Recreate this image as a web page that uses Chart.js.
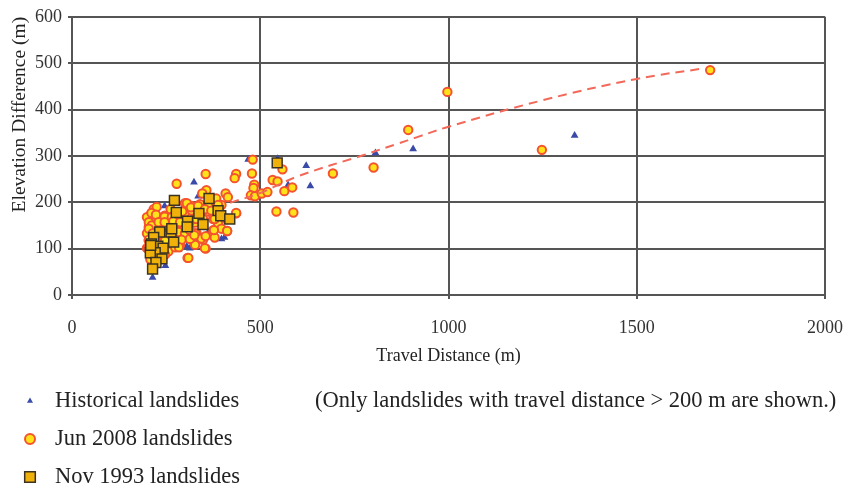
<!DOCTYPE html>
<html>
<head>
<meta charset="utf-8">
<script src="https://cdn.jsdelivr.net/npm/chart.js@4"></script>
<style>
html, body { margin: 0; padding: 0; background: #fff; }
#wrap { width: 861px; height: 491px; position: relative; }
</style>
</head>
<body>
<div id="wrap"><canvas id="chart"></canvas></div>
<script>
// historical landslides (triangles)
const histX = [324, 468, 246, 335, 300, 239, 322, 362, 313, 283, 248, 214, 405, 379, 256, 199, 204, 265, 305, 331, 278, 397, 546, 622, 633, 574, 806, 906, 1335];
const histY = [243, 292, 192, 213, 199, 129, 121, 136, 101, 98, 63, 38, 124, 133, 119, 143, 115, 98, 105, 115, 164, 121, 294, 279, 235, 237, 306, 315, 344];

// Jun 2008 landslides (circles)
const junX = [480, 355, 436, 432, 478, 278, 357, 346, 484, 482, 408, 414, 383, 475, 486, 504, 519, 300, 318, 340, 362, 397, 246, 211, 221, 283, 300, 318, 331, 362, 383, 436, 410, 375, 256, 234, 213, 204, 226, 243, 270, 291, 327, 348, 388, 397, 412, 375, 331, 296, 283, 348, 379, 274, 313, 208, 204, 204, 239, 256, 287, 355, 307, 208, 256, 327,
              199, 217, 199, 217, 230, 248, 217, 199, 262, 225,
              211, 223, 246, 265, 293, 305, 316, 335, 353, 370, 388, 204, 212, 230, 246, 269, 287, 316, 331, 379, 204, 214, 230, 247, 283, 300, 313, 328, 344, 355, 377, 412, 436, 291, 313, 325, 204, 230, 247, 274, 284, 353, 309, 221, 247, 202,
              533, 546, 564, 585, 543, 588, 693, 801, 559, 997, 1248, 1695, 893];
const junY = [292, 261, 261, 252, 262, 240, 226, 219, 238, 231, 219, 211, 208, 215, 213, 219, 222, 198, 192, 196, 192, 194, 171, 176, 170, 171, 178, 182, 168, 180, 175, 176, 164, 164, 161, 159, 157, 147, 147, 145, 147, 157, 156, 164, 154, 143, 138, 140, 133, 129, 136, 119, 124, 126, 121, 136, 126, 117, 117, 108, 108, 100, 80, 77, 94, 108,
              168, 185, 133, 150, 129, 133, 101, 101, 185, 190,
              177, 173, 169, 168, 180, 198, 189, 192, 185, 182, 194, 157, 150, 157, 157, 159, 157, 161, 164, 164, 143, 133, 129, 129, 136, 133, 140, 133, 122, 127, 140, 138, 177, 119, 121, 129, 119, 112, 117, 103, 103, 101, 80, 80, 87, 101,
              248, 245, 224, 232, 180, 178, 262, 275, 271, 438, 313, 485, 356];

// Nov 1993 landslides (squares)
const novX = [272, 364, 277, 337, 388, 395, 419, 307, 348, 306, 263, 233, 217, 270, 211, 228, 242, 221, 208, 239, 223, 214, 265, 209, 545];
const novY = [204, 208, 178, 176, 182, 171, 164, 159, 152, 147, 136, 136, 124, 114, 110, 105, 101, 91, 91, 78, 70, 56, 143, 107, 285];

// dashed trend curve
const trendX = [420, 500, 600, 775, 860, 915, 1000, 1250, 1500, 1680];
const trendY = [199, 220, 256, 302, 325, 340, 363, 420, 466, 489];

const xTicks = [0, 500, 1000, 1500, 2000];
const legendLabels = ['Historical landslides', 'Jun 2008 landslides', 'Nov 1993 landslides'];
const noteText = '(Only landslides with travel distance > 200 m are shown.)';

const pts = (xs, ys) => xs.map((x, i) => ({ x: x, y: ys[i] }));
const serif = '"Liberation Serif", "Times New Roman", serif';

const datasets = [
  {
    label: legendLabels[0],
    data: pts(histX, histY),
    pointStyle: 'triangle',
    pointRadius: 4.5,
    backgroundColor: '#3a4aa8',
    borderColor: '#3a4aa8',
    pointBorderWidth: 0,
    order: 3
  },
  {
    label: legendLabels[1],
    data: pts(junX, junY),
    pointStyle: 'circle',
    pointRadius: 4.2,
    backgroundColor: '#ffe21a',
    borderColor: '#f4532e',
    pointBorderWidth: 2,
    order: 2
  },
  {
    label: legendLabels[2],
    data: pts(novX, novY),
    pointStyle: 'rect',
    pointRadius: 7,
    backgroundColor: '#f0b10a',
    borderColor: '#3b3322',
    pointBorderWidth: 1.5,
    order: 0
  },
  {
    label: 'trend',
    data: pts(trendX, trendY),
    showLine: true,
    pointRadius: 0,
    borderColor: '#f2695a',
    borderWidth: 2,
    borderDash: [9, 6],
    tension: 0.4,
    fill: false,
    order: 1
  }
];

// legend rows and note drawn under the plot
const bottomLegend = {
  id: 'bottomLegend',
  afterDraw(chart) {
    const ctx = chart.ctx;
    ctx.save();
    ctx.font = '22.5px ' + serif;
    ctx.textBaseline = 'middle';
    const sizes = [3.5, 5, 7.5];
    for (let i = 0; i < 3; i++) {
      const ds = chart.data.datasets[i];
      const y = 401 + i * 38;
      ctx.fillStyle = ds.backgroundColor;
      ctx.strokeStyle = ds.borderColor;
      ctx.lineWidth = ds.pointBorderWidth;
      Chart.helpers.drawPoint(ctx, {
        pointStyle: ds.pointStyle,
        radius: sizes[i],
        borderWidth: ds.pointBorderWidth,
        rotation: 0
      }, 30, y);
      ctx.fillStyle = '#222';
      ctx.fillText(legendLabels[i], 55, y);
    }
    ctx.fillText(noteText, 315, 401);
    ctx.restore();
  }
};

new Chart(document.getElementById('chart'), {
  type: 'scatter',
  data: { datasets: datasets },
  plugins: [bottomLegend],
  options: {
    responsive: true,
    maintainAspectRatio: false,
    animation: false,
    layout: { padding: { left: 4, top: 10, right: 28, bottom: 120 } },
    plugins: { legend: { display: false }, tooltip: { enabled: false } },
    scales: {
      x: {
        type: 'linear',
        min: 0,
        max: 2000,
        afterBuildTicks(scale) { scale.ticks = xTicks.map(v => ({ value: v })); },
        ticks: { padding: 18, color: '#333', font: { family: serif, size: 18 }, callback: v => String(v) },
        grid: { color: '#555', lineWidth: 2, tickLength: 4 },
        border: { color: '#555', width: 2 },
        title: { display: true, text: 'Travel Distance (m)', color: '#222', font: { family: serif, size: 18 } },
        afterFit(scale) { scale.height = 76; }
      },
      y: {
        min: 0,
        max: 600,
        ticks: { stepSize: 100, padding: 6, color: '#333', font: { family: serif, size: 18 } },
        grid: { color: '#555', lineWidth: 2, tickLength: 4 },
        border: { color: '#555', width: 2 },
        title: { display: true, text: 'Elevation Difference (m)', align: 'end', color: '#222', font: { family: serif, size: 19.5 } },
        afterFit(scale) { scale.width = 68; }
      }
    }
  }
});
</script>
</body>
</html>
